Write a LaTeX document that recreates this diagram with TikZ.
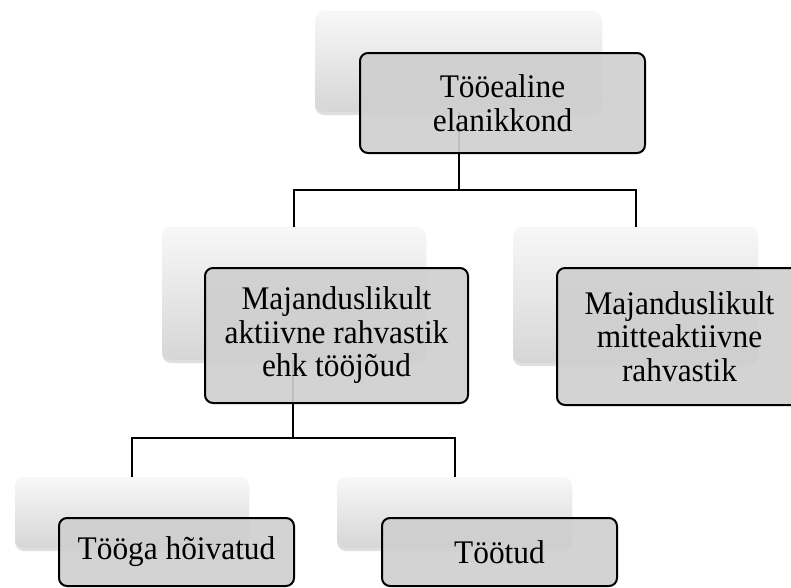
\documentclass[tikz,border=0pt]{standalone}
\usepackage{fontspec}
\setmainfont{Liberation Serif}[FakeStretch=0.95]
\usetikzlibrary{shadows}
\begin{document}
\begin{tikzpicture}[x=1pt,y=-1pt,
  backbox/.style={rectangle, rounded corners=9pt, inner sep=0pt,
    top color=white!97!black, middle color=white!94!black, bottom color=white!84!black,
    drop shadow={opacity=0.25, shadow xshift=0pt, shadow yshift=-3pt}},
  frontbox/.style={rectangle, rounded corners=8pt, inner sep=0pt, draw=black, line width=2pt,
    fill=black!19, fill opacity=0.92, text opacity=1, align=center,
    font=\fontsize{33}{33.5}\selectfont},
  conn/.style={draw=black, line width=2pt}]
\useasboundingbox (0,0) rectangle (791,587);
% back boxes
\node[backbox, minimum width=287pt, minimum height=101pt] (topB) at (458.5,61.5) {};
\node[backbox, minimum width=264pt, minimum height=133pt] (mlB) at (294,293.5) {};
\node[backbox, minimum width=245pt, minimum height=136pt] (mrB) at (635.5,295) {};
\node[backbox, minimum width=234pt, minimum height=71pt] (blB) at (132,512.5) {};
\node[backbox, minimum width=235pt, minimum height=71pt] (brB) at (454.5,512.5) {};
% connectors
\coordinate (j1) at (458.5,190);
\coordinate (j2) at (293,438);
\draw[conn] (topB.south) -- (j1);
\draw[conn] (mlB.north) |- (j1) -| (mrB.north);
\draw[conn] (mlB.south -| j2) -- (j2);
\draw[conn] (blB.north) |- (j2) -| (brB.north);
% front boxes
\node[frontbox, minimum width=285pt, minimum height=100pt] (topF) at (502.5,103) {Tööealine\\elanikkond};
\node[frontbox, minimum width=263pt, minimum height=135pt] (mlF) at (336.5,335.5) {Majanduslikult\\aktiivne rahvastik\\ehk tööjõud};
\node[frontbox, minimum width=245pt, minimum height=137pt] (mrF) at (679.5,336.5) {Majanduslikult\\mitteaktiivne\\rahvastik};
\node[frontbox, minimum width=235pt, minimum height=68pt] (blF) at (176.5,552) {Tööga hõivatud};
\node[frontbox, minimum width=235pt, minimum height=68pt] (brF) at (499.5,552) {Töötud};
\end{tikzpicture}
\end{document}
